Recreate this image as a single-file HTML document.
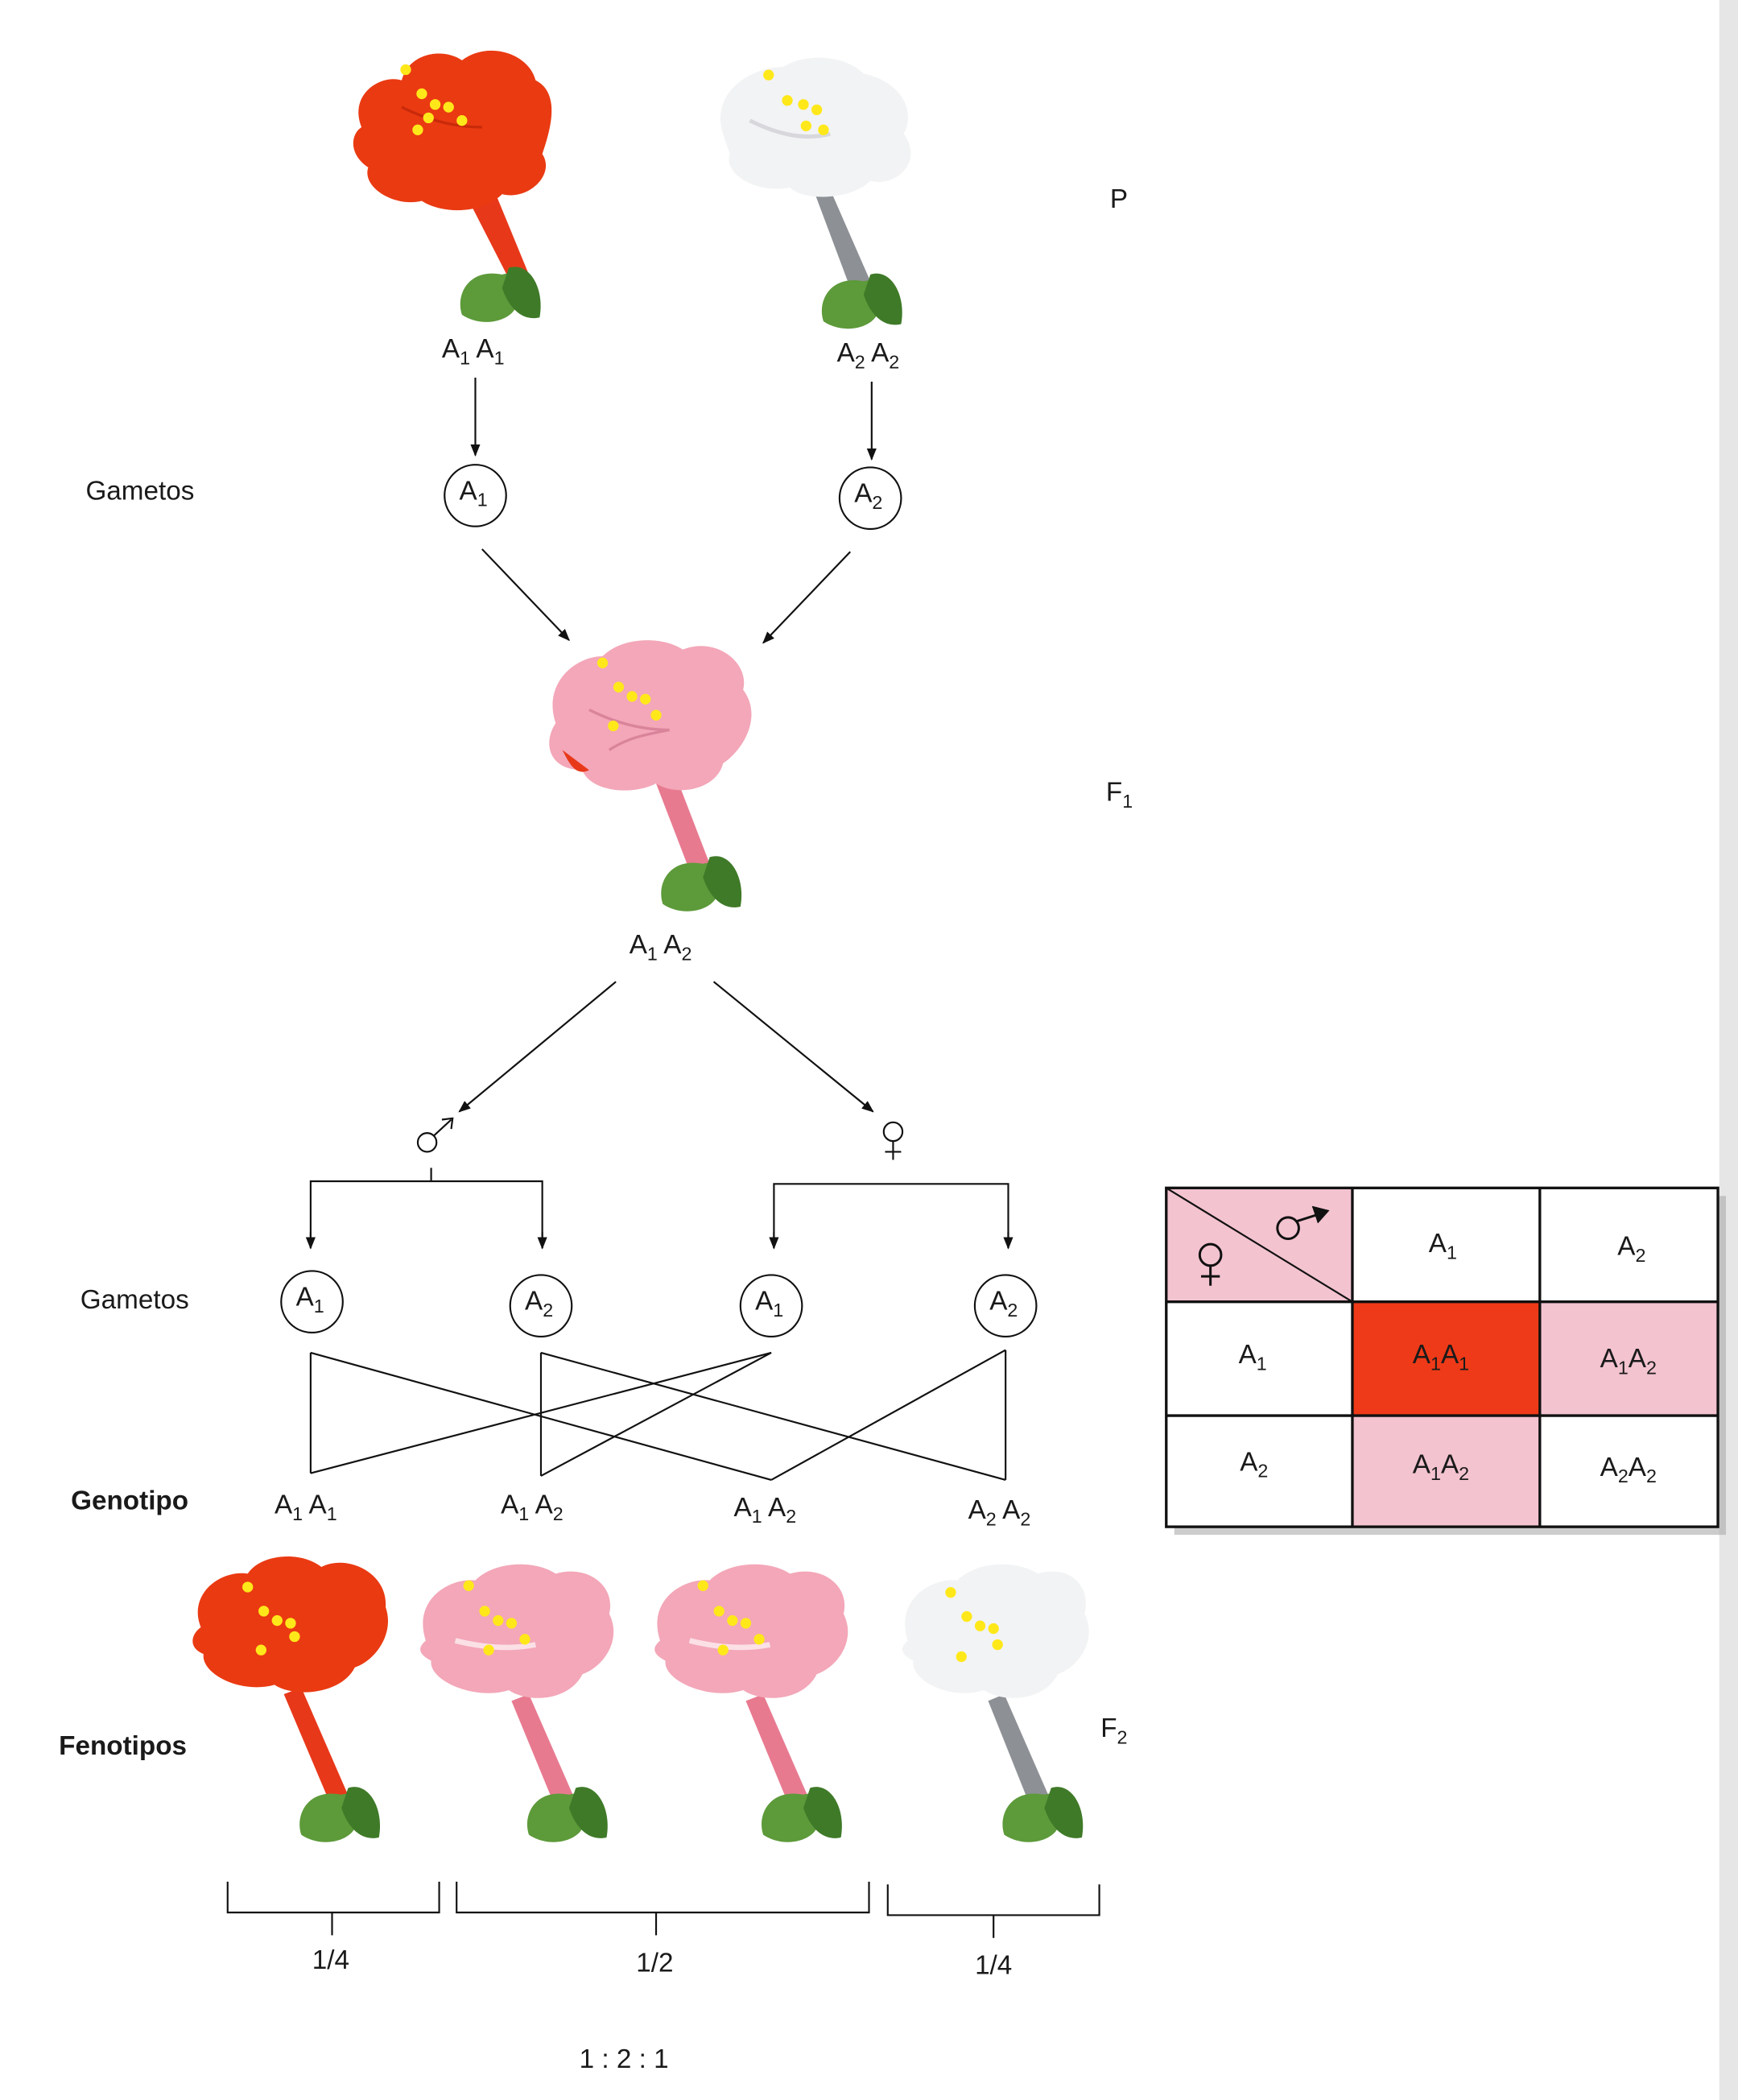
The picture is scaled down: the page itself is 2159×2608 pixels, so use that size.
<!DOCTYPE html>
<html><head><meta charset="utf-8"><style>
html,body{margin:0;padding:0;background:#fff}
svg{display:block}
text{font-family:"Liberation Sans",sans-serif;fill:#1a1a1a}
</style></head><body>
<svg width="2159" height="2608" viewBox="0 0 1298 1568" preserveAspectRatio="none" xmlns="http://www.w3.org/2000/svg">
<defs>
<marker id="ar" viewBox="0 0 10 10" refX="9" refY="5" markerWidth="7" markerHeight="7" orient="auto-start-reverse"><path d="M0,1 L10,5 L0,9 z" fill="#111"/></marker>
<g id="calyx">
<path d="M0,0 C-25,-5 -35,15 -30,30 C-15,40 5,35 10,25 C20,15 15,-5 0,0 z" fill="#5d9a3a"/>
<path d="M5,-5 C20,-10 32,10 28,32 C15,35 5,25 0,10 z" fill="#3f7a28"/>
</g>
</defs>
<rect width="1298" height="1568" fill="#fff"/>
<rect x="1284" y="0" width="14" height="1568" fill="#e6e6e6"/>

<!-- Flower templates drawn inline -->
<!-- P red -->
<g>
<path d="M360,120 L395,205 L382,212 L340,130 z" fill="#e8381a"/>
<path d="M270,95 C260,70 285,55 300,60 C305,40 330,35 345,45 C365,30 395,40 400,60 C420,70 410,100 405,115 C415,130 395,150 375,145 C360,160 330,160 315,150 C295,155 270,140 275,125 C260,115 262,100 270,95 z" fill="#ea3a12"/>
<path d="M300,80 C320,90 340,95 360,95" stroke="#c82a0a" stroke-width="2" fill="none"/>
<use href="#calyx" x="375" y="205"/>
<g fill="#ffe81a"><circle cx="303" cy="52" r="4"/><circle cx="315" cy="70" r="4"/><circle cx="325" cy="78" r="4"/><circle cx="335" cy="80" r="4"/><circle cx="312" cy="97" r="4"/><circle cx="320" cy="88" r="4"/><circle cx="345" cy="90" r="4"/></g>
</g>
<!-- P white -->
<g>
<path d="M615,130 L650,210 L635,215 L605,135 z" fill="#8d9095"/>
<path d="M540,100 C530,70 560,50 585,50 C600,40 630,40 645,55 C670,60 685,80 675,100 C690,120 670,140 650,135 C635,150 600,150 590,140 C565,145 540,130 545,115 z" fill="#f2f3f4"/>
<path d="M560,90 C580,100 600,105 620,100" stroke="#d8d8dc" stroke-width="3" fill="none"/>
<use href="#calyx" x="645" y="210"/>
<g fill="#ffe81a"><circle cx="574" cy="56" r="4"/><circle cx="588" cy="75" r="4"/><circle cx="600" cy="78" r="4"/><circle cx="610" cy="82" r="4"/><circle cx="602" cy="94" r="4"/><circle cx="615" cy="97" r="4"/></g>
</g>

<text x="829" y="155" font-size="20">P</text>
<text x="330" y="267" font-size="20">A<tspan font-size="14" dy="5">1</tspan><tspan dy="-5"> A</tspan><tspan font-size="14" dy="5">1</tspan></text>
<text x="625" y="270" font-size="20">A<tspan font-size="14" dy="5">2</tspan><tspan dy="-5"> A</tspan><tspan font-size="14" dy="5">2</tspan></text>
<g stroke="#111" stroke-width="1.3" fill="none">
<line x1="355" y1="282" x2="355" y2="340" marker-end="url(#ar)"/>
<line x1="651" y1="285" x2="651" y2="343" marker-end="url(#ar)"/>
<circle cx="355" cy="370" r="23"/>
<circle cx="650" cy="372" r="23"/>
<line x1="360" y1="410" x2="425" y2="478" marker-end="url(#ar)"/>
<line x1="635" y1="412" x2="570" y2="480" marker-end="url(#ar)"/>
</g>
<text x="343" y="373" font-size="20">A<tspan font-size="14" dy="5">1</tspan></text>
<text x="638" y="375" font-size="20">A<tspan font-size="14" dy="5">2</tspan></text>
<text x="64" y="373" font-size="20">Gametos</text>

<!-- F1 pink -->
<g>
<path d="M505,580 L530,645 L515,650 L490,585 z" fill="#e87a90"/>
<path d="M415,540 C405,510 430,490 450,490 C465,475 495,475 510,485 C535,475 560,495 555,515 C570,535 555,560 540,570 C535,590 505,595 490,585 C470,595 440,590 435,575 C410,575 405,555 415,540 z" fill="#f3a7b8"/>
<path d="M420,560 C425,570 430,580 440,575" fill="#e8381a"/>
<path d="M440,530 C460,540 480,545 500,545 M455,560 C470,550 485,548 500,545" stroke="#d9849a" stroke-width="2" fill="none"/>
<use href="#calyx" x="525" y="645"/>
<g fill="#ffe81a"><circle cx="450" cy="495" r="4"/><circle cx="462" cy="513" r="4"/><circle cx="472" cy="520" r="4"/><circle cx="482" cy="522" r="4"/><circle cx="490" cy="534" r="4"/><circle cx="458" cy="542" r="4"/></g>
</g>
<text x="826" y="598" font-size="20">F<tspan font-size="14" dy="5">1</tspan></text>
<text x="470" y="712" font-size="20">A<tspan font-size="14" dy="5">1</tspan><tspan dy="-5"> A</tspan><tspan font-size="14" dy="5">2</tspan></text>

<g stroke="#111" stroke-width="1.3" fill="none">
<line x1="460" y1="733" x2="343" y2="830" marker-end="url(#ar)"/>
<line x1="533" y1="733" x2="652" y2="830" marker-end="url(#ar)"/>
<!-- male symbol -->
<circle cx="319" cy="853" r="7"/>
<line x1="324" y1="848" x2="337" y2="836"/>
<path d="M330,836 L338,835 L337,843" />
<!-- female -->
<circle cx="667" cy="845" r="7"/>
<line x1="667" y1="852" x2="667" y2="866"/>
<line x1="661" y1="860" x2="673" y2="860"/>
<line x1="322" y1="872" x2="322" y2="882"/>
<polyline points="232,932 232,882 405,882 405,932"/>
<polyline points="578,932 578,884 753,884 753,932"/>
<line x1="232" y1="920" x2="232" y2="932" marker-end="url(#ar)"/>
<line x1="405" y1="920" x2="405" y2="932" marker-end="url(#ar)"/>
<line x1="578" y1="920" x2="578" y2="932" marker-end="url(#ar)"/>
<line x1="753" y1="920" x2="753" y2="932" marker-end="url(#ar)"/>
<circle cx="233" cy="972" r="23"/>
<circle cx="404" cy="975" r="23"/>
<circle cx="576" cy="975" r="23"/>
<circle cx="751" cy="975" r="23"/>
<!-- crosses -->
<line x1="232" y1="1010" x2="232" y2="1100"/>
<line x1="232" y1="1010" x2="576" y2="1105"/>
<line x1="404" y1="1010" x2="404" y2="1102"/>
<line x1="404" y1="1010" x2="751" y2="1105"/>
<line x1="576" y1="1010" x2="232" y2="1100"/>
<line x1="576" y1="1010" x2="404" y2="1102"/>
<line x1="751" y1="1008" x2="751" y2="1105"/>
<line x1="751" y1="1008" x2="576" y2="1105"/>
</g>
<text x="60" y="977" font-size="20">Gametos</text>
<text x="221" y="975" font-size="20">A<tspan font-size="14" dy="5">1</tspan></text>
<text x="392" y="978" font-size="20">A<tspan font-size="14" dy="5">2</tspan></text>
<text x="564" y="978" font-size="20">A<tspan font-size="14" dy="5">1</tspan></text>
<text x="739" y="978" font-size="20">A<tspan font-size="14" dy="5">2</tspan></text>

<text x="53" y="1127" font-size="20" font-weight="bold">Genotipo</text>
<text x="205" y="1130" font-size="20">A<tspan font-size="14" dy="5">1</tspan><tspan dy="-5"> A</tspan><tspan font-size="14" dy="5">1</tspan></text>
<text x="374" y="1130" font-size="20">A<tspan font-size="14" dy="5">1</tspan><tspan dy="-5"> A</tspan><tspan font-size="14" dy="5">2</tspan></text>
<text x="548" y="1132" font-size="20">A<tspan font-size="14" dy="5">1</tspan><tspan dy="-5"> A</tspan><tspan font-size="14" dy="5">2</tspan></text>
<text x="723" y="1134" font-size="20">A<tspan font-size="14" dy="5">2</tspan><tspan dy="-5"> A</tspan><tspan font-size="14" dy="5">2</tspan></text>

<!-- F2 flowers -->
<g>
<path d="M225,1260 L262,1345 L248,1350 L212,1265 z" fill="#e8381a"/>
<path d="M150,1215 C140,1190 165,1172 185,1175 C195,1160 225,1158 240,1170 C260,1160 290,1175 288,1200 C295,1220 280,1240 265,1245 C255,1265 220,1268 205,1258 C180,1265 150,1250 152,1235 C140,1230 143,1220 150,1215 z" fill="#ea3a12"/>
<use href="#calyx" x="255" y="1340"/>
<g fill="#ffe81a"><circle cx="185" cy="1185" r="4"/><circle cx="197" cy="1203" r="4"/><circle cx="207" cy="1210" r="4"/><circle cx="217" cy="1212" r="4"/><circle cx="195" cy="1232" r="4"/><circle cx="220" cy="1222" r="4"/></g>
</g>
<g>
<path d="M395,1265 L430,1345 L415,1350 L382,1270 z" fill="#e87a90"/>
<path d="M318,1225 C308,1195 335,1178 355,1180 C370,1165 400,1165 415,1175 C440,1168 460,1185 455,1205 C465,1225 450,1245 435,1250 C425,1270 395,1272 380,1262 C355,1270 320,1255 322,1240 C312,1235 312,1230 318,1225 z" fill="#f3a7b8"/>
<path d="M340,1225 C360,1230 380,1232 400,1228" stroke="#fbe0e6" stroke-width="4" fill="none"/>
<use href="#calyx" x="425" y="1340"/>
<g fill="#ffe81a"><circle cx="350" cy="1184" r="4"/><circle cx="362" cy="1203" r="4"/><circle cx="372" cy="1210" r="4"/><circle cx="382" cy="1212" r="4"/><circle cx="392" cy="1224" r="4"/><circle cx="365" cy="1232" r="4"/></g>
</g>
<g>
<path d="M570,1265 L605,1345 L590,1350 L557,1270 z" fill="#e87a90"/>
<path d="M493,1225 C483,1195 510,1178 530,1180 C545,1165 575,1165 590,1175 C615,1168 635,1185 630,1205 C640,1225 625,1245 610,1250 C600,1270 570,1272 555,1262 C530,1270 495,1255 497,1240 C487,1235 487,1230 493,1225 z" fill="#f3a7b8"/>
<path d="M515,1225 C535,1230 555,1232 575,1228" stroke="#fbe0e6" stroke-width="4" fill="none"/>
<use href="#calyx" x="600" y="1340"/>
<g fill="#ffe81a"><circle cx="525" cy="1184" r="4"/><circle cx="537" cy="1203" r="4"/><circle cx="547" cy="1210" r="4"/><circle cx="557" cy="1212" r="4"/><circle cx="567" cy="1224" r="4"/><circle cx="540" cy="1232" r="4"/></g>
</g>
<g>
<path d="M750,1265 L785,1345 L770,1350 L738,1270 z" fill="#8d9095"/>
<path d="M678,1225 C668,1195 695,1178 715,1180 C730,1165 760,1165 775,1175 C800,1168 815,1185 810,1205 C820,1225 805,1245 790,1250 C780,1270 750,1272 735,1262 C710,1270 680,1255 682,1240 C672,1235 672,1230 678,1225 z" fill="#f2f3f4"/>
<use href="#calyx" x="780" y="1340"/>
<g fill="#ffe81a"><circle cx="710" cy="1189" r="4"/><circle cx="722" cy="1207" r="4"/><circle cx="732" cy="1214" r="4"/><circle cx="742" cy="1216" r="4"/><circle cx="745" cy="1228" r="4"/><circle cx="718" cy="1237" r="4"/></g>
</g>

<text x="44" y="1310" font-size="20" font-weight="bold">Fenotipos</text>
<text x="822" y="1297" font-size="20">F<tspan font-size="14" dy="5">2</tspan></text>

<g stroke="#111" stroke-width="1.3" fill="none">
<polyline points="170,1405 170,1428 328,1428 328,1405"/>
<line x1="248" y1="1428" x2="248" y2="1445"/>
<polyline points="341,1405 341,1428 649,1428 649,1405"/>
<line x1="490" y1="1428" x2="490" y2="1445"/>
<polyline points="663,1407 663,1430 821,1430 821,1407"/>
<line x1="742" y1="1430" x2="742" y2="1447"/>
</g>
<text x="247" y="1470" font-size="20" text-anchor="middle">1/4</text>
<text x="489" y="1472" font-size="20" text-anchor="middle">1/2</text>
<text x="742" y="1474" font-size="20" text-anchor="middle">1/4</text>
<text x="466" y="1544" font-size="20" text-anchor="middle">1 : 2 : 1</text>

<!-- Punnett square -->
<rect x="877" y="893" width="412" height="253" fill="#aaa" opacity="0.6"/>
<rect x="871" y="887" width="412" height="253" fill="#fff"/>
<rect x="871" y="887" width="139" height="85" fill="#f3c3d0"/>
<rect x="1010" y="972" width="140" height="85" fill="#ee3a18"/>
<rect x="1150" y="972" width="133" height="85" fill="#f3c3d0"/>
<rect x="1010" y="1057" width="140" height="83" fill="#f3c3d0"/>
<g stroke="#111" stroke-width="2" fill="none">
<rect x="871" y="887" width="412" height="253"/>
<line x1="871" y1="972" x2="1283" y2="972"/>
<line x1="871" y1="1057" x2="1283" y2="1057"/>
<line x1="1010" y1="887" x2="1010" y2="1140"/>
<line x1="1150" y1="887" x2="1150" y2="1140"/>
<line x1="871" y1="887" x2="1010" y2="972" stroke-width="1.3"/>
<circle cx="962" cy="917" r="8" stroke-width="1.8"/>
<line x1="968" y1="912" x2="990" y2="905" stroke-width="1.8"/>
<path d="M980,901 L992,904 L984,913" fill="#111" stroke-width="1"/>
<circle cx="904" cy="937" r="8" stroke-width="1.8"/>
<line x1="904" y1="945" x2="904" y2="960" stroke-width="1.8"/>
<line x1="897" y1="953" x2="911" y2="953" stroke-width="1.8"/>
</g>
<text x="1067" y="935" font-size="20">A<tspan font-size="14" dy="5">1</tspan></text>
<text x="1208" y="937" font-size="20">A<tspan font-size="14" dy="5">2</tspan></text>
<text x="925" y="1018" font-size="20">A<tspan font-size="14" dy="5">1</tspan></text>
<text x="926" y="1098" font-size="20">A<tspan font-size="14" dy="5">2</tspan></text>
<text x="1055" y="1018" font-size="20">A<tspan font-size="14" dy="5">1</tspan><tspan dy="-5">A</tspan><tspan font-size="14" dy="5">1</tspan></text>
<text x="1195" y="1021" font-size="20">A<tspan font-size="14" dy="5">1</tspan><tspan dy="-5">A</tspan><tspan font-size="14" dy="5">2</tspan></text>
<text x="1055" y="1100" font-size="20">A<tspan font-size="14" dy="5">1</tspan><tspan dy="-5">A</tspan><tspan font-size="14" dy="5">2</tspan></text>
<text x="1195" y="1102" font-size="20">A<tspan font-size="14" dy="5">2</tspan><tspan dy="-5">A</tspan><tspan font-size="14" dy="5">2</tspan></text>
</svg>
</body></html>
